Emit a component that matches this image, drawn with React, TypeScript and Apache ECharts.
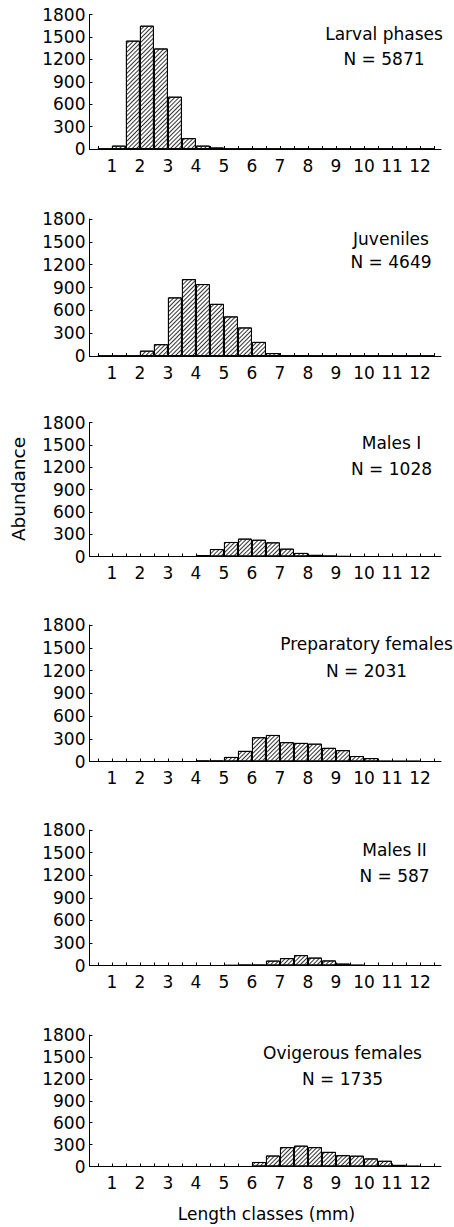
import React, { useEffect, useRef } from "react";
import * as echarts from "echarts";

// Length-class bins: left edges (mm), each bin 0.5 mm wide
const binStarts = [0.5, 1, 1.5, 2, 2.5, 3, 3.5, 4, 4.5, 5, 5.5, 6, 6.5, 7, 7.5, 8, 8.5, 9, 9.5, 10, 10.5, 11, 11.5, 12];
const binWidth = 0.5;

const larval = [0, 45, 1450, 1650, 1345, 700, 145, 45, 20, 0, 0, 0, 0, 0, 0, 0, 0, 0, 0, 0, 0, 0, 0, 0];
const juveniles = [0, 0, 0, 70, 155, 770, 1010, 945, 685, 520, 375, 185, 38, 6, 3, 0, 0, 0, 0, 0, 0, 0, 0, 0];
const malesI = [0, 0, 0, 0, 0, 0, 0, 20, 100, 195, 240, 225, 190, 105, 48, 22, 8, 2, 0, 0, 0, 0, 0, 0];
const prepFemales = [0, 0, 0, 0, 0, 0, 0, 10, 10, 60, 140, 320, 350, 255, 245, 235, 180, 150, 72, 45, 6, 5, 5, 0];
const malesII = [0, 0, 0, 0, 0, 0, 0, 0, 0, 3, 8, 8, 65, 98, 138, 105, 67, 25, 5, 0, 0, 0, 0, 0];
const ovigerous = [0, 0, 0, 0, 0, 0, 0, 0, 0, 0, 0, 62, 150, 265, 285, 265, 200, 155, 148, 110, 78, 22, 5, 0];

const panelNames = ["Larval phases", "Juveniles", "Males I", "Preparatory females", "Males II", "Ovigerous females"];
const panelN = [5871, 4649, 1028, 2031, 587, 1735];
const panelSeries = [larval, juveniles, malesI, prepFemales, malesII, ovigerous];

const xTickLabels = [1, 2, 3, 4, 5, 6, 7, 8, 9, 10, 11, 12];
const xMinorTicks = [0.5, 1, 1.5, 2, 2.5, 3, 3.5, 4, 4.5, 5, 5.5, 6, 6.5, 7, 7.5, 8, 8.5, 9, 9.5, 10, 10.5, 11, 11.5, 12, 12.5];
const yMax = 1800;
const yInterval = 300;

const yAxisTitle = "Abundance";
const xAxisTitle = "Length classes (mm)";

// layout
const W = 454;
const H = 1227;
const gridLeft = 89.5;
const gridRight = 13;
const xMin = 0.2;
const xMax = 12.75;
const panelLayout = [
  { top: 14.5, height: 134.5, labelX: 384, labelY1: 33.5, labelY2: 59 },
  { top: 219, height: 137, labelX: 391, labelY1: 239, labelY2: 262 },
  { top: 422.5, height: 134, labelX: 391.5, labelY1: 443, labelY2: 469 },
  { top: 625, height: 136.5, labelX: 366.5, labelY1: 643.5, labelY2: 670.5 },
  { top: 830, height: 135.5, labelX: 394.5, labelY1: 850, labelY2: 876 },
  { top: 1035, height: 131.5, labelX: 342.5, labelY1: 1053, labelY2: 1079 },
];

const FONT = "DejaVu Sans";
const FS = 17;

export default function App() {
  const ref = useRef<HTMLDivElement>(null);

  useEffect(() => {
    if (!ref.current) return;
    const chart = echarts.init(ref.current, undefined, { renderer: "svg" });
    const plotW = W - gridLeft - gridRight;
    const barPx = (plotW * binWidth) / (xMax - xMin);

    const grids = panelLayout.map((p) => ({
      left: gridLeft,
      right: gridRight,
      top: p.top,
      height: p.height,
      containLabel: false,
    }));

    const xAxes = panelLayout.map((_, i) => ({
      type: "value",
      gridIndex: i,
      min: xMin,
      max: xMax,
      splitLine: { show: false },
      axisLine: { show: true, onZero: false, lineStyle: { color: "#000", width: 1 } },
      axisTick: {
        show: true,
        inside: true,
        length: 3,
        customValues: xMinorTicks,
        lineStyle: { color: "#000", width: 1 },
      },
      axisLabel: {
        show: true,
        customValues: xTickLabels,
        margin: 8,
        color: "#000",
        fontFamily: FONT,
        fontSize: FS,
        formatter: (v: number) => String(v),
      },
    }));

    const yAxes = panelLayout.map((_, i) => ({
      type: "value",
      gridIndex: i,
      min: 0,
      max: yMax,
      interval: yInterval,
      splitLine: { show: false },
      axisLine: { show: true, lineStyle: { color: "#000", width: 1 } },
      axisTick: { show: true, inside: true, length: 3, lineStyle: { color: "#000" } },
      axisLabel: {
        margin: 4,
        color: "#000",
        fontFamily: FONT,
        fontSize: FS,
        formatter: (v: number) => String(v),
      },
    }));

    const series = panelSeries.map((vals, i) => ({
      type: "bar",
      xAxisIndex: i,
      yAxisIndex: i,
      barWidth: barPx,
      data: binStarts.map((s, k) => [s + binWidth / 2, vals[k]]),
      itemStyle: {
        color: "#ffffff",
        borderColor: "#000",
        borderWidth: 1,
        decal: {
          symbol: "rect",
          symbolSize: 1,
          dashArrayX: [1, 0],
          dashArrayY: [1, 2],
          rotation: -Math.PI / 4,
          color: "#333333",
          backgroundColor: "#f2f2f2",
        },
      },
      emphasis: { disabled: true },
    }));

    const graphics: any[] = [];
    panelLayout.forEach((p, i) => {
      graphics.push({
        type: "text",
        x: p.labelX,
        y: p.labelY1,
        style: {
          text: panelNames[i],
          textAlign: "center",
          textVerticalAlign: "middle",
          fill: "#000",
          font: `${FS}px "${FONT}"`,
        },
      });
      graphics.push({
        type: "text",
        x: p.labelX,
        y: p.labelY2,
        style: {
          text: `N = ${panelN[i]}`,
          textAlign: "center",
          textVerticalAlign: "middle",
          fill: "#000",
          font: `${FS}px "${FONT}"`,
        },
      });
    });
    graphics.push({
      type: "text",
      x: 18,
      y: 489,
      rotation: Math.PI / 2,
      style: {
        text: yAxisTitle,
        textAlign: "center",
        textVerticalAlign: "middle",
        fill: "#000",
        font: `18.5px "${FONT}"`,
      },
    });
    graphics.push({
      type: "text",
      x: 266.5,
      y: 1214,
      style: {
        text: xAxisTitle,
        textAlign: "center",
        textVerticalAlign: "middle",
        fill: "#000",
        font: `${FS}px "${FONT}"`,
      },
    });

    chart.setOption({
      animation: false,
      backgroundColor: "#fff",
      grid: grids,
      xAxis: xAxes,
      yAxis: yAxes,
      series,
      graphic: graphics,
    } as any);

    return () => chart.dispose();
  }, []);

  return (
    <div
      ref={ref}
      style={{ position: "absolute", left: 0, top: 0, width: W, height: H }}
    />
  );
}
